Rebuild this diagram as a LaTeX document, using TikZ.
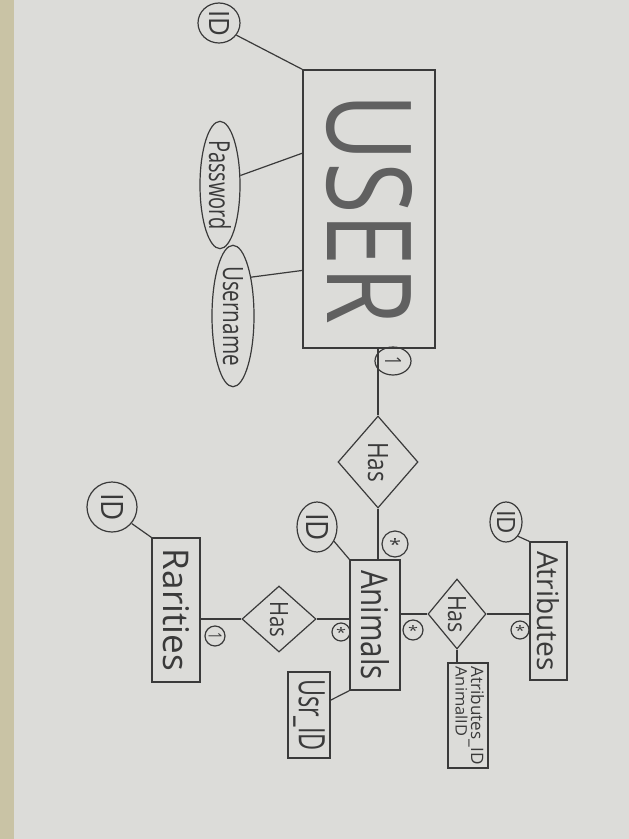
\documentclass[tikz,border=0pt]{standalone}
\usepackage{fontspec}
\setmainfont{Open Sans}
\usetikzlibrary{shapes.geometric,calc}
\definecolor{paper}{HTML}{DCDCD9}
\definecolor{tanedge}{HTML}{C9C3A5}
\definecolor{ink}{HTML}{3A3A3A}
\definecolor{bigink}{HTML}{606060}
\newcommand{\rt}[3]{\rotatebox{-90}{\resizebox{#1pt}{#2pt}{#3}}}
\tikzset{
  ink/.style={draw=ink, line width=1.2pt, text=ink},
  entity/.style={ink, rectangle, inner sep=0pt},
  rel/.style={ink, diamond, inner sep=0pt},
  attr/.style={ink, ellipse, inner sep=0pt},
  card/.style={ink, circle, inner sep=0pt, minimum size=20pt},
  conn/.style={draw=ink, line width=1.2pt}
}
\begin{document}
\begin{tikzpicture}[x=1pt,y=-1pt]
\useasboundingbox (0,0) rectangle (629,839);
\fill[paper] (0,0) rectangle (629,839);
\fill[tanedge] (0,0) rectangle (14,839);

% USER entity
\node[entity, minimum width=132pt, minimum height=278pt] (user) at (369,209)
  {\rotatebox{-90}{\resizebox{230pt}{85pt}{\color{bigink}USER}}};
\node[attr, minimum width=42pt, minimum height=40pt] (uid) at (219,23) {\rt{26}{20}{ID}};
\node[attr, minimum width=40pt, minimum height=120pt] (pw) at (220,185) {\rt{90}{22}{Password}};
\node[attr, minimum width=42pt, minimum height=124pt] (un) at (233,316) {\rt{100}{20}{Username}};

% Has (User - Animals)
\node[rel, minimum width=80pt, minimum height=92pt] (has1) at (378,462) {\rt{40}{20}{Has}};
\node[card, minimum width=36pt, minimum height=28pt, ellipse] (c1) at (393,361) {\rt{9}{16}{1}};

% Animals
\node[entity, minimum width=50pt, minimum height=130pt] (animals) at (375,625) {\rt{110}{28}{Animals}};
\node[card, minimum size=26pt] (c2) at (395,544) {\resizebox{12pt}{12pt}{*}};
\node[attr, minimum width=40pt, minimum height=50pt] (aid) at (317,527) {\rt{28}{22}{ID}};
\node[entity, minimum width=42pt, minimum height=86pt] (usrid) at (309,715) {\rt{72}{26}{Usr\_ID}};

% Has (Animals - Atributes)
\node[rel, minimum width=58pt, minimum height=70pt] (has2) at (457,614) {\rt{38}{18}{Has}};
\node[card, minimum size=20pt] (c3) at (413,630) {\resizebox{10pt}{10pt}{*}};
\node[card, minimum size=18pt] (c4) at (520,630) {\resizebox{10pt}{10pt}{*}};
\node[entity, minimum width=37pt, minimum height=138pt] (atr) at (548.5,611) {\rt{120}{22}{Atributes}};
\node[attr, minimum width=32pt, minimum height=40pt] (atid) at (506,522) {\rt{24}{18}{ID}};
\node[entity, minimum width=40pt, minimum height=105pt] (atrid) at (468,715.5)
  {\rotatebox{-90}{\begin{tabular}{@{}l@{}}\resizebox{98pt}{13pt}{Atributes\_ID}\\\resizebox{70pt}{12pt}{AnimalID}\end{tabular}}};

% Has (Animals - Rarities)
\node[rel, minimum width=74pt, minimum height=66pt] (has3) at (279,619) {\rt{36}{18}{Has}};
\node[card, minimum size=18pt] (c5) at (341,632) {\resizebox{10pt}{10pt}{*}};
\node[card, minimum size=20pt] (c6) at (215,636) {\rt{7}{13}{1}};
\node[entity, minimum width=48pt, minimum height=144pt] (rar) at (176,610) {\rt{122}{26}{Rarities}};
\node[attr, minimum width=50pt, minimum height=50pt] (rid) at (112,507) {\rt{28}{22}{ID}};

% connectors
\draw[conn] (uid.-35) -- (user.north west);
\draw[conn] (pw.25) -- ($(user.north west)!0.30!(user.south west)$);
\draw[conn] (un.65) -- ($(user.north west)!0.72!(user.south west)$);
\draw[conn] (has1.north |- user.south) -- (has1.north);
\draw[conn] (has1.south) -- (has1.south |- animals.north);
\draw[conn] (aid.-40) -- (animals.north west);
\draw[conn] ($(usrid.north east)!0.33!(usrid.south east)$) -- (animals.south west);
\draw[conn] (has2.west -| animals.east) -- (has2.west);
\draw[conn] (has2.east) -- (has2.east -| atr.west);
\draw[conn] (has2.south) -- (has2.south |- atrid.north);
\draw[conn] (atid.-50) -- (atr.north west);
\draw[conn] (has3.east) -- (has3.east -| animals.west);
\draw[conn] (has3.west) -- (has3.west -| rar.east);
\draw[conn] (rid.-40) -- (rar.north west);
\end{tikzpicture}
\end{document}
